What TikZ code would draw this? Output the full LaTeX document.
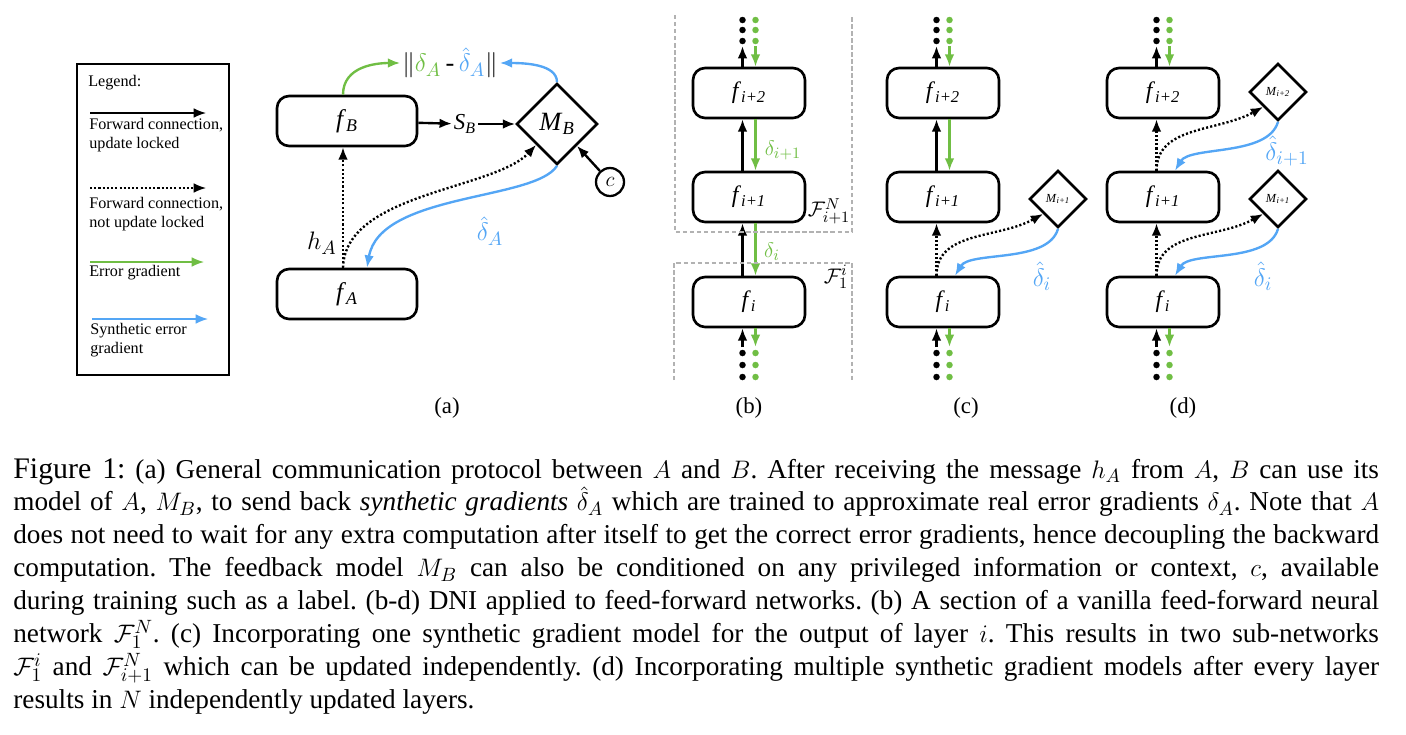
\documentclass[tikz,border=0pt]{standalone}
\usepackage{fontspec}
\setmainfont{Liberation Serif}
\usetikzlibrary{arrows.meta,shapes.geometric,positioning}

\definecolor{gradgreen}{RGB}{112,190,68}
\definecolor{synthblue}{RGB}{84,166,245}

\newcommand{\fl}[1]{\textit{f}\textsubscript{\textit{#1}}}
\newcommand{\ml}[1]{\textit{M}\textsubscript{\textit{#1}}}

\tikzset{
  layer/.style={draw, line width=1.5pt, rounded corners=0.24cm, minimum width=2.24cm,
    minimum height=1cm, font=\fontsize{13.5}{15}\selectfont},
  model/.style={draw, diamond, line width=1.5pt, inner sep=0pt, minimum size=1.14cm,
    font=\fontsize{7}{8}\selectfont},
  fwd/.style={line width=1.35pt, -{Latex[length=7pt,width=5.5pt]}},
  nolock/.style={fwd, dash pattern=on 1.2pt off 1.2pt},
  errgrad/.style={fwd, gradgreen},
  synth/.style={fwd, synthblue},
  subnet/.style={draw=gray!60, line width=0.6pt, dash pattern=on 2.5pt off 1.5pt},
  dotblk/.style={circle, fill=black, inner sep=0pt, minimum size=3.7pt},
  dotgrn/.style={dotblk, fill=gradgreen},
  lbl/.style={font=\fontsize{13}{15}\selectfont},
  legtext/.style={anchor=west, align=left, inner sep=0pt, font=\fontsize{9.2}{10.8}\selectfont},
}

% three layers f_i .. f_i+2, with the rest of the network above and below
\newcommand{\layerstack}[2]{
  \node[layer] (#1a) at (#2,302) {\fl{i}};
  \node[layer] (#1b) at (#2,197) {\fl{i+1}};
  \node[layer] (#1c) at (#2,93) {\fl{i+2}};
  \foreach \y/\n in {20/1,30/2,41/3,353/4,365/5,377/6}{
    \node[dotblk] (#1k\n) at (#2-6.5,\y) {};
    \node[dotgrn] (#1g\n) at (#2+6.5,\y) {};
  }
  \coordinate (#1kt) at (#2-6.5,46);
  \coordinate (#1gt) at (#2+6.5,46);
  \coordinate (#1kb) at (#2-6.5,347);
  \coordinate (#1gb) at (#2+6.5,347);
  \draw[fwd] (#1c.north -| #1kt) -- (#1kt);
  \draw[errgrad] (#1gt) -- (#1c.north -| #1gt);
  \draw[fwd] (#1kb) -- (#1a.south -| #1kb);
  \draw[errgrad] (#1a.south -| #1gb) -- (#1gb);
}

\begin{document}
\begin{tikzpicture}[x=0.02cm,y=-0.02cm]
  \useasboundingbox (0,0) rectangle (1406,734);

  % legend
  \draw[line width=1pt] (77,64) rectangle (229,375);
  \node[legtext] (leghead) at (88,83) {Legend:};
  \coordinate (l1s) at (90,113);  \coordinate (l1e) at (206,113);
  \coordinate (l2s) at (90,188);  \coordinate (l2e) at (206,188);
  \coordinate (l3s) at (90,262);  \coordinate (l3e) at (204,262);
  \coordinate (l4s) at (92,319);  \coordinate (l4e) at (208,319);
  \draw[fwd, line width=0.8pt] (l1s) -- (l1e);
  \draw[nolock, line width=0.8pt] (l2s) -- (l2e);
  \draw[errgrad, line width=0.8pt] (l3s) -- (l3e);
  \draw[synth, line width=0.8pt] (l4s) -- (l4e);
  \node[legtext] (leg1) at (89,135) {Forward connection,\\update locked};
  \node[legtext] (leg2) at (89,214) {Forward connection,\\not update locked};
  \node[legtext] (leg3) at (89,273) {Error gradient};
  \node[legtext] (leg4) at (90,340) {Synthetic error\\gradient};

  % (a)
  \node[layer, minimum width=2.8cm, font=\fontsize{14.5}{16}\selectfont] (fB) at (347,121) {\fl{B}};
  \node[layer, minimum width=2.8cm, font=\fontsize{14.5}{16}\selectfont] (fA) at (347,294) {\fl{A}};
  \node[model, minimum size=1.62cm, font=\fontsize{15}{17}\selectfont] (MB) at (557,124) {\ml{B}};
  \node[draw, circle, line width=1.3pt, minimum size=0.56cm, inner sep=0pt,
    font=\fontsize{13}{15}\selectfont] (ctx) at (610,182) {$c$};
  \node[lbl, inner sep=1pt] (SB) at (465,124) {\textit{S}\textsubscript{\textit{B}}};
  \node[font=\fontsize{15}{17}\selectfont, inner sep=1pt] (nrm) at (450,63)
    {$\|{\color{gradgreen}\delta_A}$\,-\,${\color{synthblue}\hat{\delta}_A}\|$};
  \node[font=\fontsize{15}{17}\selectfont] (hA) at (322,243) {$h_A$};
  \node[font=\fontsize{15}{17}\selectfont, synthblue] (dA) at (490,231) {$\hat{\delta}_A$};
  \draw[fwd] (fB) -- (SB);
  \draw[fwd] (SB) -- (MB);
  \draw[fwd] (ctx) -- (MB);
  \draw[nolock] ([xshift=-0.08cm]fA.north) -- ([xshift=-0.08cm]fB.south);
  \draw[nolock] ([xshift=-0.08cm]fA.north) .. controls +(2,-75) and +(-42,45) .. (MB.south west);
  \draw[synth] (MB.south) .. controls +(-22,35) and +(13,-75) .. ([xshift=0.4cm]fA.north);
  \draw[errgrad] ([xshift=-0.08cm]fB.north) .. controls +(0,-28) and +(-25,0) .. (nrm.west);
  \draw[synth] (MB.north) .. controls +(0,-18) and +(25,0) .. (nrm.east);

  % (b)
  \layerstack{b}{749}
  \draw[fwd] (ba.north -| bkt) -- (bb.south -| bkt);
  \draw[errgrad] (bb.south -| bgt) -- (ba.north -| bgt);
  \draw[fwd] (bb.north -| bkt) -- (bc.south -| bkt);
  \draw[errgrad] (bc.south -| bgt) -- (bb.north -| bgt);
  \node[lbl, gradgreen] (db1) at (783,150) {$\delta_{i+1}$};
  \node[lbl, gradgreen] (db0) at (772,252) {$\delta_{i}$};
  \draw[subnet] (675,15) -- (675,232) -- (852,232) -- (852,15);
  \draw[subnet] (674,380) -- (674,263) -- (852,263) -- (852,380);
  \node[lbl] (Fup) at (829,211) {$\mathcal{F}_{i+1}^{N}$};
  \node[lbl] (Flo) at (836,277) {$\mathcal{F}_{1}^{i}$};

  % (c)
  \layerstack{c}{943}
  \node[model] (Mc) at (1058,199) {\ml{i+1}};
  \draw[fwd] (cb.north -| ckt) -- (cc.south -| ckt);
  \draw[errgrad] (cc.south -| cgt) -- (cb.north -| cgt);
  \draw[nolock] (ca.north -| ckt) -- (cb.south -| ckt);
  \draw[nolock] (ca.north -| ckt) .. controls +(0,-45) and +(-45,25) .. (Mc.south west);
  \draw[synth] (Mc.south) .. controls +(-10,35) and +(15,-25) .. ([xshift=0.24cm]ca.north);
  \node[font=\fontsize{15}{17}\selectfont, synthblue] (dc) at (1042,276) {$\hat{\delta}_i$};

  % (d)
  \layerstack{d}{1163}
  \node[model] (Md2) at (1278,92) {\ml{i+2}};
  \node[model] (Md1) at (1278,199) {\ml{i+1}};
  \draw[nolock] (db.north -| dkt) -- (dc.south -| dkt);
  \draw[nolock] (da.north -| dkt) -- (db.south -| dkt);
  \draw[nolock] (db.north -| dkt) .. controls +(0,-45) and +(-45,25) .. (Md2.south west);
  \draw[synth] (Md2.south) .. controls +(-10,35) and +(15,-25) .. ([xshift=0.24cm]db.north);
  \draw[nolock] (da.north -| dkt) .. controls +(0,-45) and +(-45,25) .. (Md1.south west);
  \draw[synth] (Md1.south) .. controls +(-10,35) and +(15,-25) .. ([xshift=0.24cm]da.north);
  \node[font=\fontsize{15}{17}\selectfont, synthblue] (dd1) at (1287,151) {$\hat{\delta}_{i+1}$};
  \node[font=\fontsize{15}{17}\selectfont, synthblue] (dd0) at (1263,276) {$\hat{\delta}_i$};

  \node[lbl] (capa) at (447,408) {(a)};
  \node[lbl] (capb) at (749,408) {(b)};
  \node[lbl] (capc) at (966,408) {(c)};
  \node[lbl] (capd) at (1183,408) {(d)};

  \node[anchor=north west, inner sep=0pt, text width=27.32cm, align=justify,
    font=\fontsize{15.5}{18.7}\selectfont] (caption) at (13,458) {%
    \hyphenpenalty=10000 \exhyphenpenalty=10000 \frenchspacing
    {\fontsize{17}{18.7}\selectfont Figure 1:} (a) General communication protocol between $A$ and $B$. After receiving the message $h_A$ from $A$, $B$ can use its\linebreak
    model of $A$, $M_B$, to send back \textit{synthetic gradients} $\hat{\delta}_A$ which are trained to approximate real error gradients $\delta_A$. Note that $A$\linebreak
    does not need to wait for any extra computation after itself to get the correct error gradients, hence decoupling the backward\linebreak
    computation. The feedback model $M_B$ can also be conditioned on any privileged information or context, $c$, available\linebreak
    during training such as a label. (b-d) DNI applied to feed-forward networks. (b) A section of a vanilla feed-forward neural\linebreak
    network $\mathcal{F}_1^N$. (c) Incorporating one synthetic gradient model for the output of layer $i$. This results in two sub-networks\linebreak
    $\mathcal{F}_1^i$ and $\mathcal{F}_{i+1}^N$ which can be updated independently. (d) Incorporating multiple synthetic gradient models after every layer\linebreak
    results in $N$ independently updated layers.};
\end{tikzpicture}
\end{document}
